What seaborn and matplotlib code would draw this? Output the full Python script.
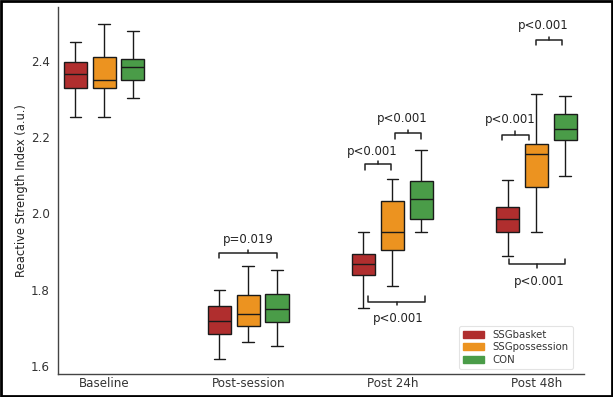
import numpy as np
import pandas as pd
import seaborn as sns
import matplotlib.pyplot as plt
from matplotlib.patches import Rectangle

# time points and groups
times = ['Baseline', 'Post-session', 'Post 24h', 'Post 48h']
groups = ['SSGbasket', 'SSGpossession', 'CON']

# five-number summaries (min, Q1, median, Q3, max), one per time point
basket_min = [2.253, 1.619, 1.753, 1.888]
basket_q1 = [2.329, 1.684, 1.837, 1.950]
basket_med = [2.365, 1.718, 1.866, 1.986]
basket_q3 = [2.396, 1.757, 1.894, 2.017]
basket_max = [2.448, 1.799, 1.952, 2.087]

poss_min = [2.251, 1.662, 1.810, 1.951]
poss_q1 = [2.327, 1.705, 1.904, 2.070]
poss_med = [2.348, 1.736, 1.950, 2.155]
poss_q3 = [2.410, 1.786, 2.031, 2.182]
poss_max = [2.497, 1.861, 2.089, 2.312]

con_min = [2.302, 1.653, 1.950, 2.097]
con_q1 = [2.348, 1.714, 1.984, 2.192]
con_med = [2.382, 1.750, 2.038, 2.222]
con_q3 = [2.403, 1.788, 2.084, 2.260]
con_max = [2.477, 1.851, 2.167, 2.308]

colors = ['#B02E2E', '#EC9320', '#4A9C48']

# build long table for seaborn
summ = {
    'SSGbasket': [basket_min, basket_q1, basket_med, basket_q3, basket_max],
    'SSGpossession': [poss_min, poss_q1, poss_med, poss_q3, poss_max],
    'CON': [con_min, con_q1, con_med, con_q3, con_max],
}
rows = []
for g in groups:
    for i, t in enumerate(times):
        for arr in summ[g]:
            rows.append({'Time': t, 'Group': g, 'RSI': arr[i]})
df = pd.DataFrame(rows)

sns.set_style('white')
plt.rcParams['font.family'] = ['DejaVu Sans']

fig = plt.figure(figsize=(6.13, 3.97), dpi=100)
ax = fig.add_axes([0.0946, 0.058, 0.858, 0.924])

sns.boxplot(data=df, x='Time', y='RSI', hue='Group', order=times, hue_order=groups,
            palette=colors, saturation=1, width=0.6, gap=0.2, whis=np.inf,
            linecolor='#1a1a1a', linewidth=1.0, ax=ax)

ax.set_xlim(-0.32, 3.33)
ax.set_ylim(1.579, 2.54)
ax.set_yticks([1.6, 1.8, 2.0, 2.2, 2.4])
ax.set_yticklabels(['1.6', '1.8', '2.0', '2.2', '2.4'])
ax.set_xlabel('')
ax.set_ylabel('Reactive Strength Index (a.u.)', fontsize=8.3, color='#222222', labelpad=2)
ax.tick_params(axis='both', labelsize=8.6, colors='#333333', direction='out')
ax.tick_params(axis='y', length=3, pad=3)
ax.tick_params(axis='x', length=2, pad=0.5)
for s in ['top', 'right']:
    ax.spines[s].set_visible(False)
for s in ['left', 'bottom']:
    ax.spines[s].set_color('#444444')
    ax.spines[s].set_linewidth(1.0)

# significance brackets: x1, x2, y of line, direction (+1 opens down, -1 opens up), label, label x, label y
brackets = [
    (0.80, 1.20, 1.896, 1, 'p=0.019', 1.00, 1.932),
    (1.81, 1.99, 2.128, 1, 'p<0.001', 1.86, 2.163),
    (2.02, 2.20, 2.209, 1, 'p<0.001', 2.07, 2.249),
    (1.83, 2.23, 1.768, -1, 'p<0.001', 2.04, 1.725),
    (2.76, 2.95, 2.206, 1, 'p<0.001', 2.82, 2.246),
    (3.00, 3.18, 2.454, 1, 'p<0.001', 3.05, 2.492),
    (2.81, 3.20, 1.866, -1, 'p<0.001', 3.02, 1.822),
]
for x1, x2, y, d, lab, lx, ly in brackets:
    h = 0.014 * d
    ax.plot([x1, x1, x2, x2], [y - h, y, y, y - h], color='#222222', lw=1.1)
    xm = (x1 + x2) / 2
    ax.plot([xm, xm], [y, y + 0.009 * d], color='#222222', lw=1.1)
    ax.text(lx, ly, lab, ha='center', va='center', fontsize=8.5, color='#222222')

leg = ax.legend(loc='lower right', fontsize=7.3, frameon=True, handlelength=2.1,
                handletextpad=0.8, borderpad=0.4, labelspacing=0.25,
                bbox_to_anchor=(0.988, 0.0))
leg.get_frame().set_edgecolor('#dddddd')
leg.get_frame().set_linewidth(0.8)
for txt in leg.get_texts():
    txt.set_color('#333333')
for hnd, c in zip(leg.legend_handles, colors):
    hnd.set_edgecolor(c)

fig.patches.append(Rectangle((0.002, 0.003), 0.996, 0.994, transform=fig.transFigure,
                             fill=False, edgecolor='black', linewidth=2))

plt.savefig('out.png', dpi=100)
plt.close()
